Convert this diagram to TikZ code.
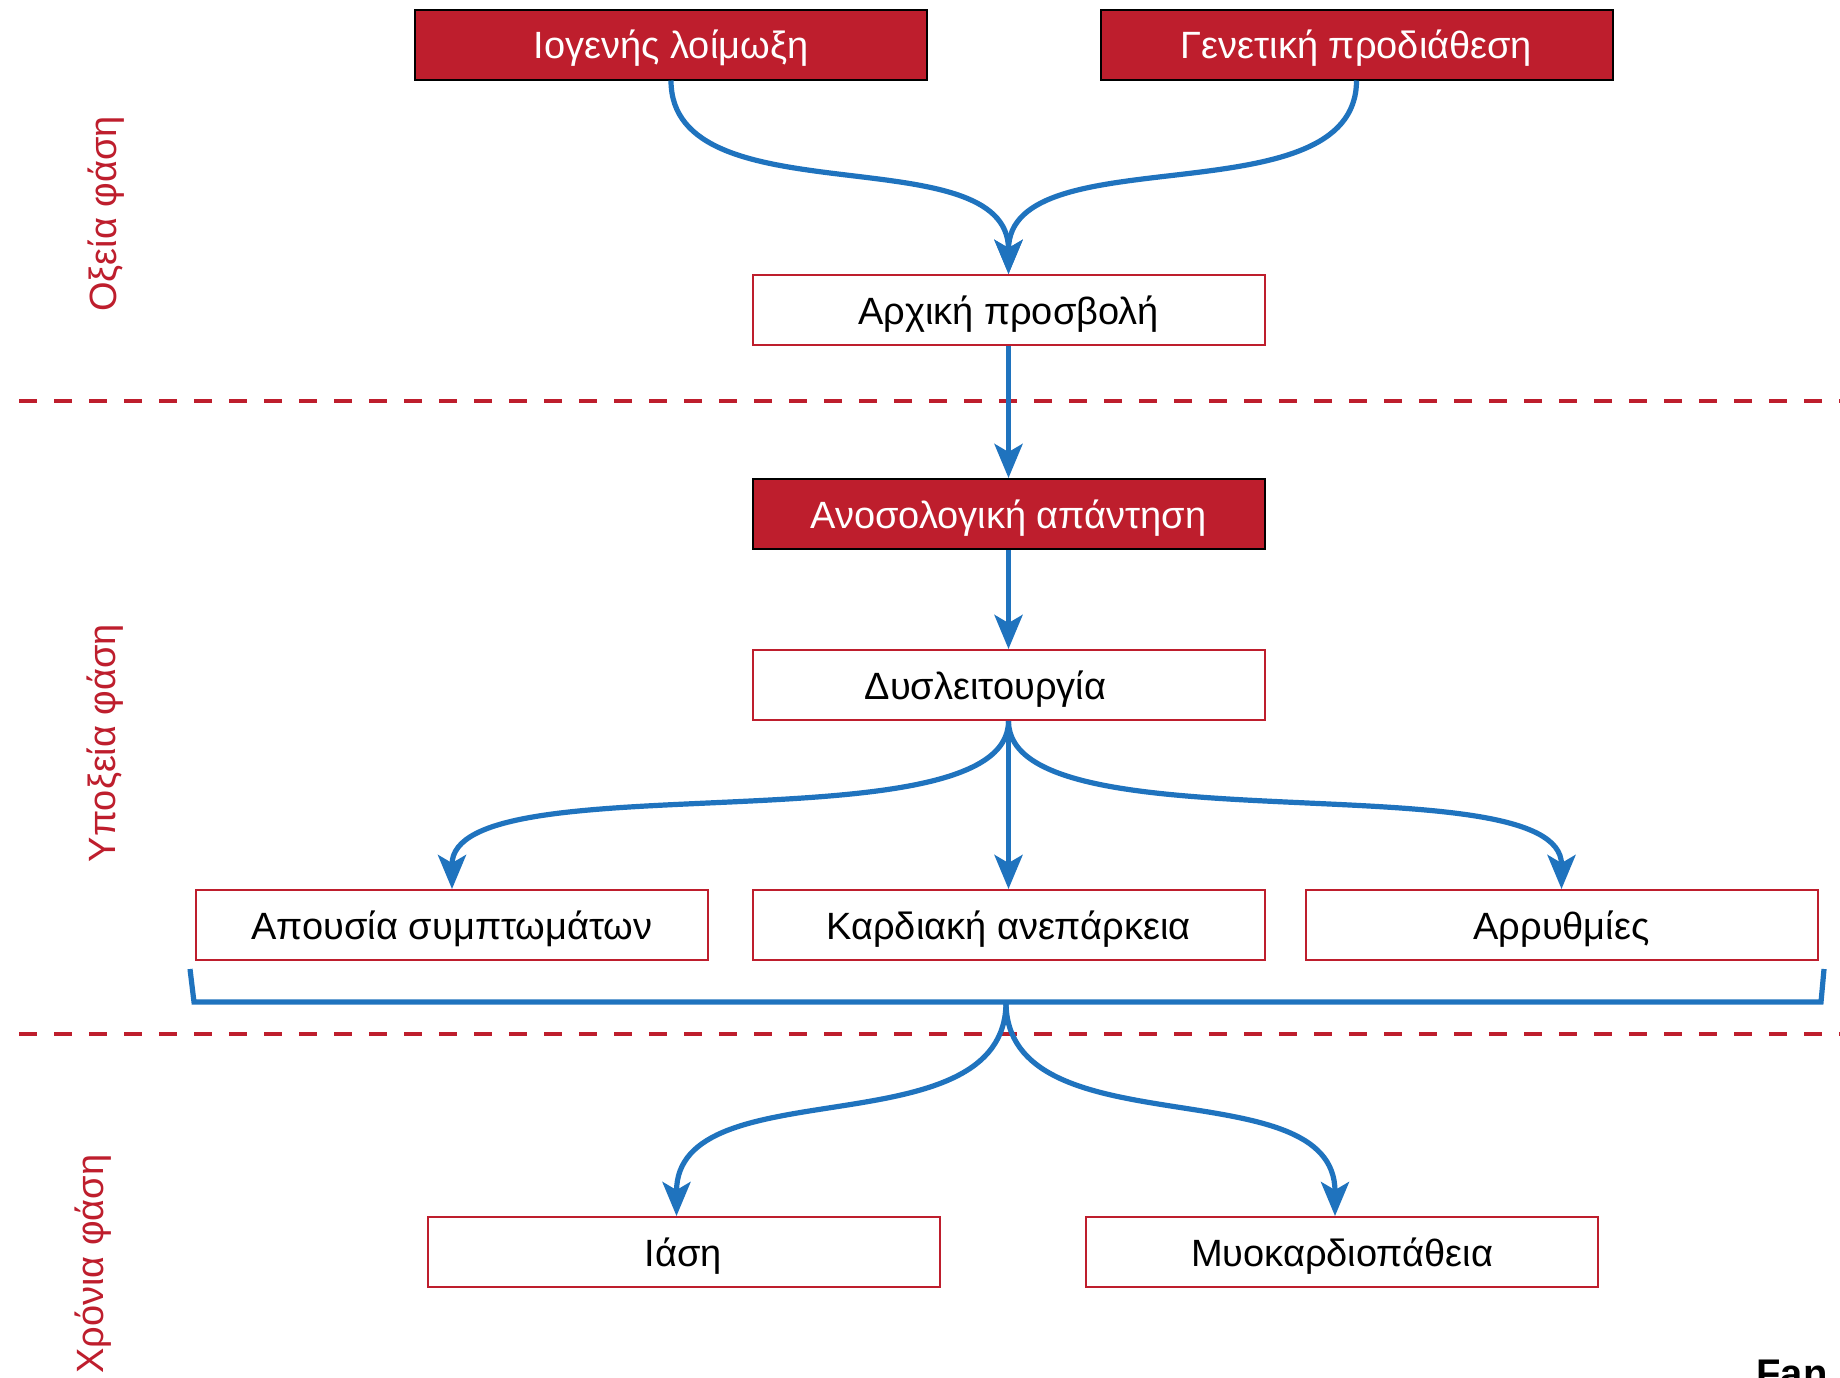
\documentclass[tikz,border=0pt]{standalone}
\usepackage{fontspec}
\setmainfont{Liberation Sans}
\usetikzlibrary{arrows.meta,calc}
\definecolor{myred}{RGB}{190,30,45}
\definecolor{myblue}{RGB}{31,115,190}
\begin{document}
\begin{tikzpicture}[x=0.5pt,y=-0.5pt,
  boxfont/.style={font=\fontsize{19}{23}\selectfont},
  basebox/.style={boxfont,line width=1pt,minimum width=256pt,minimum height=35pt,inner sep=0pt,text height=16pt,text depth=2pt},
  filledbox/.style={basebox,draw=black,fill=myred,text=white},
  plainbox/.style={basebox,draw=myred,fill=white,text=black},
  phase/.style={boxfont,text=myred,rotate=90,inner sep=0pt},
  conn/.style={draw=myblue,line width=2.6pt,-{Stealth[length=17pt,width=14pt,inset=4pt]}},
  bracketline/.style={draw=myblue,line width=2.6pt},
  divider/.style={draw=myred,line width=2pt,dash pattern=on 9pt off 8.5pt}]
\clip (0,0) rectangle (1840,1377);
\fill[white] (0,0) rectangle (1840,1377);

% dividers
\coordinate (d1a) at (19,401);
\coordinate (d1b) at (1840,401);
\coordinate (d2a) at (19,1034);
\coordinate (d2b) at (1840,1034);
\draw[divider] (d1a) -- (d1b);
\draw[divider] (d2a) -- (d2b);

% phase labels
\node[phase] (ph1) at (106,214) {Οξεία φάση};
\node[phase] (ph2) at (105,743) {Υποξεία φάση};
\node[phase] (ph3) at (93,1264) {Χρόνια φάση};

% nodes
\node[filledbox] (ioge) at (671,44.5) {Ιογενής λοίμωξη};
\node[filledbox] (gen) at (1356.5,44.5) {Γενετική προδιάθεση};
\node[plainbox] (arx) at (1008.5,310) {Αρχική προσβολή};
\node[filledbox] (anos) at (1008.5,514) {Ανοσολογική απάντηση};
\node[plainbox] (dys) at (1008.5,685) {Δυσλειτουργία\hspace*{23pt}};
\node[plainbox] (apou) at (452,925) {Απουσία συμπτωμάτων};
\node[plainbox] (kard) at (1008.5,925) {Καρδιακή ανεπάρκεια};
\node[plainbox] (arr) at (1561.5,925) {Αρρυθμίες};
\node[plainbox] (iasi) at (683.5,1252) {Ιάση};
\node[plainbox] (myo) at (1342,1252) {Μυοκαρδιοπάθεια};

% connectors
\draw[conn] (ioge.south) .. controls +(0,140) and +(0,-140) .. (arx.north);
\draw[conn] (gen.south) .. controls +(0,140) and +(0,-140) .. (arx.north);
\draw[conn] (arx.south) -- (anos.north);
\draw[conn] (anos.south) -- (dys.north);
\draw[conn] (dys.south) .. controls +(0,130) and +(0,-130) .. (apou.north);
\draw[conn] (dys.south) -- (kard.north);
\draw[conn] (dys.south) .. controls +(0,130) and +(0,-130) .. (arr.north);

% bracket
\coordinate (bl1) at (190,969);
\coordinate (bl2) at (194,1002);
\coordinate (br2) at (1821,1002);
\coordinate (br1) at (1824,969);
\coordinate (bc) at (1006,1002);
\draw[bracketline] (bl1) -- (bl2) -- (br2) -- (br1);
\draw[conn] (bc) .. controls +(0,150) and +(0,-150) .. ([xshift=-3.5pt]iasi.north);
\draw[conn] (bc) .. controls +(0,150) and +(0,-150) .. ([xshift=-3.5pt]myo.north);

% cut-off text at bottom right
\node[anchor=base west,font=\bfseries\fontsize{20}{24}\selectfont,inner sep=0pt] (fan) at (1756,1387) {Fan};
\end{tikzpicture}
\end{document}
